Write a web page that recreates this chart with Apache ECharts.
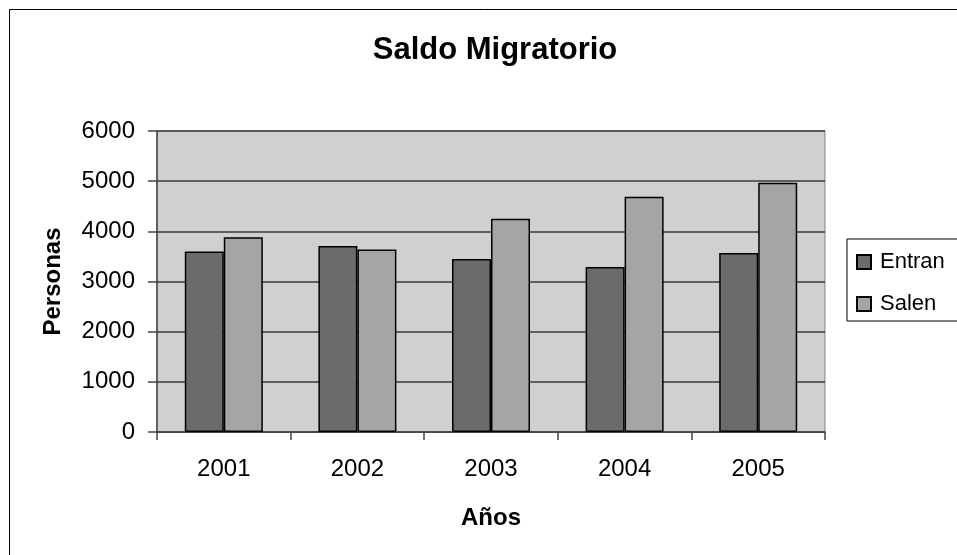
<!DOCTYPE html>
<html>
<head>
<meta charset="utf-8">
<script src="https://cdn.jsdelivr.net/npm/echarts@6/dist/echarts.min.js"></script>
<style>
html,body{margin:0;padding:0;background:#fff;}
#chart{width:957px;height:555px;}
</style>
</head>
<body>
<div id="chart"></div>
<script>
const categories = ['2001', '2002', '2003', '2004', '2005'];
const entran = [3600, 3710, 3450, 3290, 3570];
const salen = [3880, 3640, 4250, 4690, 4970];
const seriesNames = ['Entran', 'Salen'];
const yTicks = { min: 0, max: 6000, interval: 1000 };

const FONT = "'Liberation Sans', Arial, sans-serif";
const chart = echarts.init(document.getElementById('chart'), null, { renderer: 'canvas' });
chart.setOption({
  backgroundColor: '#ffffff',
  animation: false,
  title: {
    text: 'Saldo Migratorio',
    left: 490,
    textAlign: 'center',
    top: 30,
    textStyle: { fontFamily: FONT, fontSize: 31, fontWeight: 'bold', color: '#000' }
  },
  graphic: [{
    type: 'rect',
    shape: { x: 9.5, y: 9.5, width: 1000, height: 1000 },
    style: { fill: null, stroke: '#000', lineWidth: 1 },
    silent: true
  }],
  legend: {
    orient: 'vertical',
    left: 847,
    top: 239,
    padding: [12, 40, 6, 9],
    itemGap: 20,
    itemWidth: 14,
    itemHeight: 14,
    icon: 'rect',
    borderColor: '#000',
    borderWidth: 1,
    textStyle: { fontFamily: FONT, fontSize: 22, color: '#000', padding: [0, 0, 0, 4] },
    data: seriesNames
  },
  grid: {
    left: 157, right: 132, top: 131, bottom: 123,
    show: true,
    backgroundColor: '#d0d0d0',
    borderColor: '#808080',
    borderWidth: 1
  },
  xAxis: {
    type: 'category',
    data: categories,
    name: 'Años',
    nameLocation: 'middle',
    nameGap: 74,
    nameTextStyle: { fontFamily: FONT, fontSize: 24, fontWeight: 'bold', color: '#000' },
    axisLine: { show: true, lineStyle: { color: '#444', width: 1.5 } },
    axisTick: { show: true, alignWithLabel: false, length: 8, lineStyle: { color: '#444', width: 1.5 } },
    axisLabel: { fontFamily: FONT, fontSize: 24, color: '#000', margin: 25 },
    splitLine: { show: false }
  },
  yAxis: {
    type: 'value',
    min: yTicks.min,
    max: yTicks.max,
    interval: yTicks.interval,
    name: 'Personas',
    nameLocation: 'middle',
    nameRotate: 90,
    nameGap: 92,
    nameTextStyle: { fontFamily: FONT, fontSize: 24, fontWeight: 'bold', color: '#000' },
    axisLine: { show: true, lineStyle: { color: '#444', width: 1.5 } },
    axisTick: { show: true, length: 9, lineStyle: { color: '#444', width: 1.5 } },
    axisLabel: { fontFamily: FONT, fontSize: 24, color: '#000', margin: 22, formatter: (v) => String(v) },
    splitLine: { show: true, lineStyle: { color: '#3a3a3a', width: 1.5 } }
  },
  series: [
    {
      name: seriesNames[0],
      type: 'bar',
      data: entran,
      barWidth: 39,
      barGap: '0%',
      itemStyle: { color: '#6b6b6b', borderColor: '#000', borderWidth: 1.5 }
    },
    {
      name: seriesNames[1],
      type: 'bar',
      data: salen,
      barWidth: 39,
      barGap: '0%',
      itemStyle: { color: '#a5a5a5', borderColor: '#000', borderWidth: 1.5 }
    }
  ]
});
</script>
</body>
</html>
